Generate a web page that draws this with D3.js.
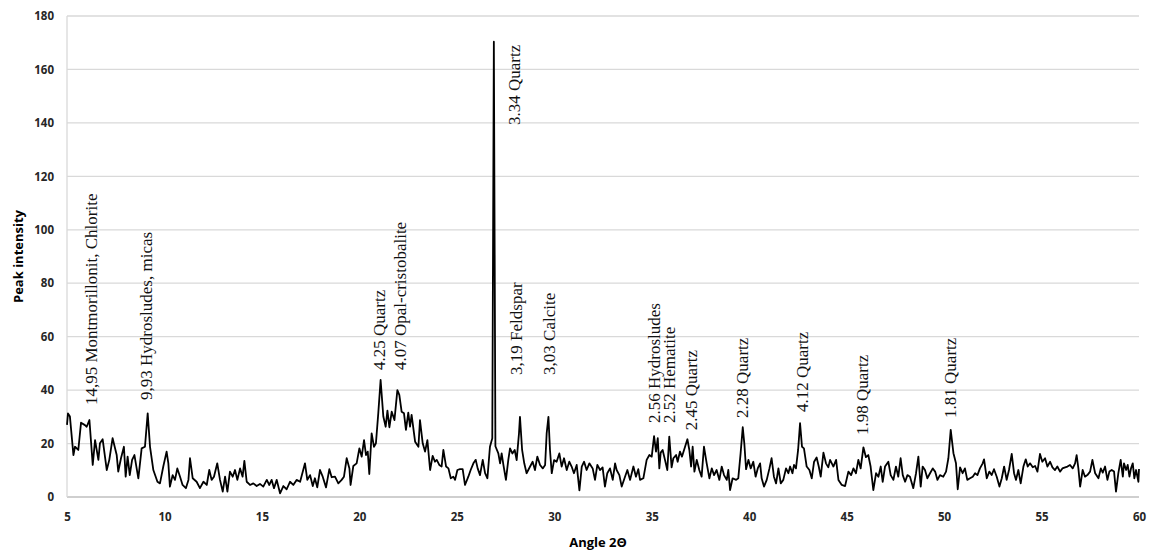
<!DOCTYPE html>
<html>
<head>
<meta charset="utf-8">
<script src="https://cdn.jsdelivr.net/npm/d3@7"></script>
<style>
  body { margin: 0; background: #fff; }
  svg { display: block; }
</style>
</head>
<body>
<div id="chart"></div>
<script>
// Diffraction scan, [angle 2θ, peak intensity]
var scanLow = [
    [5.0, 27], [5.05, 31.3], [5.15, 30.1], [5.33, 15.7], [5.41, 18.8], [5.58, 17.6], [5.72, 27.8],
    [5.92, 26.9], [6.01, 26.3], [6.15, 28.8], [6.32, 12.0], [6.44, 21.3], [6.61, 13.9], [6.69, 20.1],
    [6.83, 21.6], [7.04, 10.1], [7.17, 13.9], [7.34, 22.0], [7.55, 15.7], [7.63, 9.5], [7.77, 14.5],
    [7.92, 18.8], [8.01, 7.6], [8.11, 15.1], [8.22, 8.2], [8.34, 13.9], [8.46, 15.7], [8.66, 7.0],
    [8.83, 18.2], [9.0, 18.8], [9.14, 31.3], [9.26, 18.8], [9.43, 10.1], [9.64, 5.7], [9.77, 5.1],
    [9.94, 11.4], [10.11, 17.0], [10.2, 12.6], [10.28, 3.9], [10.42, 8.2], [10.54, 6.4], [10.66, 10.7],
    [10.8, 7.6], [10.93, 4.5], [11.1, 3.3], [11.23, 6.4], [11.31, 14.5], [11.45, 7.0], [11.65, 5.7],
    [11.82, 3.3], [12.0, 5.7], [12.17, 4.5], [12.3, 10.1], [12.42, 6.4], [12.54, 7.6], [12.71, 12.6],
    [12.85, 6.4], [12.99, 2.0], [13.11, 7.6], [13.23, 2.0], [13.36, 9.5], [13.5, 7.6], [13.62, 10.1],
    [13.74, 6.4], [13.88, 10.7], [14.01, 7.6], [14.1, 13.5], [14.22, 5.7], [14.39, 4.5], [14.56, 5.1],
    [14.73, 4.1], [14.9, 4.9], [15.07, 3.9], [15.25, 6.4], [15.38, 4.5], [15.5, 6.4], [15.62, 3.3],
    [15.76, 6.4], [15.93, 1.4], [16.1, 4.1], [16.27, 2.9], [16.44, 5.7], [16.61, 4.5], [16.78, 6.4]
];

var scanHump = [
    [16.96, 5.7], [17.21, 12.6], [17.33, 6.4], [17.47, 8.2], [17.61, 4.1], [17.72, 7.0], [17.84, 3.6],
    [17.98, 10.1], [18.12, 7.6], [18.29, 3.6], [18.46, 10.4], [18.58, 7.4], [18.75, 7.6], [18.92, 5.1],
    [19.09, 6.4], [19.21, 7.6], [19.35, 14.5], [19.49, 10.7], [19.55, 4.5], [19.69, 11.6], [19.86, 12.6],
    [20.0, 18.2], [20.12, 15.1], [20.24, 21.3], [20.34, 15.7], [20.43, 17.0], [20.51, 8.6], [20.63, 23.8],
    [20.75, 18.8], [20.85, 20.1], [20.97, 31.3], [21.09, 43.8], [21.23, 30.1], [21.35, 26.3], [21.44, 32.3],
    [21.54, 26.1], [21.66, 31.9], [21.8, 28.8], [21.95, 40.0], [22.05, 38.2], [22.17, 31.9], [22.29, 31.3],
    [22.39, 25.1], [22.51, 31.6], [22.6, 26.3], [22.68, 30.7], [22.86, 20.7], [23.03, 18.8], [23.11, 28.8],
    [23.25, 20.1], [23.37, 17.0], [23.49, 21.3], [23.63, 10.1], [23.76, 15.4], [23.88, 13.2], [23.97, 13.9],
    [24.1, 12.0], [24.22, 11.4], [24.31, 17.6], [24.45, 11.4], [24.57, 10.7], [24.69, 7.0], [24.82, 7.6],
    [24.91, 6.4], [25.03, 10.1], [25.16, 10.4], [25.3, 10.4], [25.42, 4.5], [25.59, 7.6], [25.71, 10.1],
    [25.85, 12.6], [25.97, 13.9], [26.07, 10.7], [26.19, 8.2], [26.33, 13.9], [26.45, 8.9], [26.57, 7.0],
    [26.7, 18.8]
];

var scanMain = [
    [26.82, 22.0], [26.9, 170.4], [26.98, 19.0], [27.13, 16.3], [27.22, 12.6], [27.3, 16.3], [27.39, 12.0],
    [27.52, 6.4], [27.64, 13.8], [27.73, 18.2], [27.85, 16.3], [27.97, 17.6], [28.07, 13.8], [28.19, 23.8],
    [28.24, 30.0], [28.35, 17.6], [28.46, 12.6], [28.58, 8.9], [28.76, 11.4], [28.89, 13.2], [29.01, 10.1],
    [29.13, 15.1], [29.27, 12.0], [29.41, 10.7], [29.53, 12.0], [29.61, 23.8], [29.7, 30.0], [29.78, 17.6],
    [29.87, 8.9], [29.99, 13.8], [30.12, 13.2], [30.26, 16.3], [30.38, 11.4], [30.5, 14.5], [30.64, 10.1],
    [30.77, 13.2], [30.89, 11.4], [31.01, 8.9], [31.15, 12.0], [31.29, 2.5], [31.41, 11.4], [31.53, 13.2],
    [31.66, 10.1], [31.8, 12.6]
];

var scanMid = [
    [31.97, 10.7], [32.09, 6.4], [32.21, 12.0], [32.35, 10.1], [32.48, 11.1], [32.6, 3.9], [32.72, 8.9],
    [32.86, 10.7], [33.0, 6.4], [33.12, 12.6], [33.2, 10.1], [33.34, 8.2], [33.46, 3.9], [33.63, 7.6],
    [33.75, 10.1], [33.89, 6.4], [34.06, 11.4], [34.19, 7.6], [34.31, 10.4], [34.4, 6.4], [34.57, 7.0],
    [34.74, 13.9], [34.88, 15.7], [35.0, 15.1], [35.12, 22.8], [35.22, 17.0], [35.31, 22.0], [35.39, 10.7],
    [35.46, 16.6], [35.56, 17.6], [35.68, 13.9], [35.8, 10.1], [35.9, 22.6], [36.02, 11.1], [36.11, 14.5],
    [36.25, 15.7], [36.33, 13.2], [36.45, 17.0], [36.55, 15.1], [36.71, 18.8], [36.83, 21.6], [36.93, 17.6],
    [37.02, 11.4], [37.1, 18.8], [37.19, 9.5], [37.31, 13.9], [37.44, 10.1], [37.56, 7.6], [37.68, 18.8],
    [37.82, 12.6], [37.96, 7.0], [38.08, 10.7], [38.2, 8.2], [38.33, 10.1], [38.47, 6.4], [38.59, 11.4],
    [38.71, 8.2], [38.85, 6.4], [38.93, 10.1], [39.02, 2.6], [39.15, 7.0], [39.33, 6.4], [39.44, 7.0],
    [39.56, 16.3], [39.67, 26.1], [39.75, 20.1], [39.84, 10.4], [39.96, 13.9], [40.08, 10.7], [40.21, 13.2],
    [40.33, 7.6], [40.44, 10.7], [40.56, 12.6], [40.64, 7.0], [40.76, 3.9], [40.9, 6.4], [41.04, 10.7],
    [41.15, 14.5], [41.27, 7.6], [41.38, 5.1], [41.5, 10.7], [41.62, 5.1], [41.75, 6.4], [41.89, 10.7],
    [42.01, 8.9], [42.1, 11.4], [42.22, 8.9], [42.3, 12.0], [42.4, 10.7], [42.51, 17.6], [42.61, 27.6],
    [42.71, 18.8], [42.81, 18.2], [42.95, 11.4], [43.09, 10.1], [43.21, 7.0], [43.33, 13.2], [43.46, 14.8],
    [43.57, 11.4], [43.67, 7.6], [43.81, 16.6], [43.94, 12.6], [44.06, 11.1]
];

var scanHigh = [
    [44.15, 13.9], [44.32, 11.4], [44.46, 13.9], [44.58, 6.4], [44.75, 4.5], [44.92, 4.1], [45.09, 9.5],
    [45.23, 8.2], [45.35, 10.7], [45.48, 8.9], [45.6, 13.9], [45.72, 10.7], [45.86, 18.6], [45.99, 14.9],
    [46.11, 15.7], [46.23, 11.4], [46.37, 2.6], [46.51, 8.9], [46.63, 7.6], [46.75, 11.4], [46.85, 5.7],
    [46.97, 11.4], [47.14, 13.2], [47.26, 8.2], [47.4, 6.4], [47.53, 11.4], [47.65, 7.6], [47.77, 14.5],
    [47.88, 8.2], [48.0, 5.7], [48.12, 8.2], [48.25, 7.6], [48.42, 3.3], [48.56, 8.9], [48.68, 15.1],
    [48.8, 3.9], [48.9, 11.4], [49.02, 10.1], [49.14, 7.0], [49.28, 8.9], [49.42, 10.7], [49.54, 9.5],
    [49.66, 6.4], [49.79, 8.2], [49.96, 7.6], [50.1, 9.5], [50.22, 14.5], [50.34, 25.1], [50.48, 16.4],
    [50.61, 12.6], [50.7, 2.9], [50.82, 11.1], [50.95, 8.9], [51.07, 10.7], [51.19, 6.4], [51.33, 7.0],
    [51.47, 7.6], [51.59, 8.9], [51.71, 8.2], [51.84, 10.7], [51.98, 12.6], [52.05, 14.1], [52.19, 7.0],
    [52.32, 9.5], [52.44, 8.2], [52.56, 10.4], [52.7, 7.6], [52.84, 3.9], [52.96, 7.0], [53.08, 11.4],
    [53.21, 6.4], [53.33, 10.1], [53.47, 16.1], [53.59, 8.9], [53.69, 6.4], [53.81, 10.1], [53.93, 5.1],
    [54.07, 11.4], [54.19, 14.1], [54.29, 11.4], [54.41, 12.6], [54.55, 11.1], [54.67, 11.6], [54.79, 9.5],
    [54.92, 16.1], [55.04, 13.2], [55.18, 14.5], [55.3, 11.4], [55.44, 13.2], [55.56, 11.1], [55.69, 10.1],
    [55.81, 11.4], [55.95, 9.5], [56.07, 10.7], [56.21, 11.1], [56.33, 11.4], [56.46, 12.0], [56.6, 10.7],
    [56.72, 12.6], [56.8, 15.7], [56.89, 10.7], [56.98, 3.9], [57.11, 10.1], [57.23, 7.6], [57.35, 8.2],
    [57.49, 9.5], [57.61, 13.9], [57.75, 8.9], [57.92, 7.0], [58.04, 10.7], [58.14, 9.1], [58.26, 11.4],
    [58.38, 6.4], [58.48, 9.5], [58.6, 10.1], [58.72, 9.5], [58.82, 2.0], [58.94, 8.9], [59.06, 13.9],
    [59.17, 7.6], [59.23, 12.6], [59.34, 10.1], [59.42, 12.0], [59.51, 7.6], [59.59, 10.7], [59.68, 12.6],
    [59.76, 7.0], [59.85, 10.1], [59.97, 5.7], [60.0, 10.5]
];

var xTicks = [5, 10, 15, 20, 25, 30, 35, 40, 45, 50, 55, 60];
var yTicks = [0, 20, 40, 60, 80, 100, 120, 140, 160, 180];

// Peak annotations: text, angle of the text baseline, intensity where the text starts
var peakNames = [
    '14,95 Montmorillonit, Chlorite', '9,93 Hydrosludes, micas', '4.25 Quartz', '4.07 Opal-cristobalite',
    '3.34 Quartz', '3,19 Feldspar', '3,03 Calcite', '2.56 Hydrosludes', '2.52 Hematite', '2.45 Quartz',
    '2.28 Quartz', '4.12 Quartz', '1.98 Quartz', '1.81 Quartz'
];
var peakAngles = [6.54, 9.36, 21.3, 22.4, 28.24, 28.35, 30.04, 35.43, 36.2, 37.32, 39.94, 43.02, 46.1, 50.61];
var peakStarts = [34.4, 36.3, 47.5, 47.5, 139.2, 45.7, 45.7, 27.7, 27.7, 25.0, 29.6, 31.8, 23.2, 29.6];

var scan = scanLow.concat(scanHump, scanMain, scanMid, scanHigh);

var width = 1153;
var height = 555;

var svg = d3.select('#chart')
    .append('svg')
    .attr('width', width)
    .attr('height', height);

var x = d3.scaleLinear().domain([5, 60]).range([67, 1139]);
var y = d3.scaleLinear().domain([0, 180]).range([497, 16]);

// gridlines
svg.append('g')
    .selectAll('line')
    .data(yTicks)
    .join('line')
    .attr('x1', x(5))
    .attr('x2', x(60))
    .attr('y1', d => y(d))
    .attr('y2', d => y(d))
    .attr('stroke', d => d === 0 ? '#bfbfbf' : '#d9d9d9')
    .attr('stroke-width', 1.3);

svg.append('line')
    .attr('x1', x(5)).attr('x2', x(5))
    .attr('y1', y(180)).attr('y2', y(0))
    .attr('stroke', '#d9d9d9')
    .attr('stroke-width', 1.3);

var xAxis = svg.append('g')
    .attr('transform', `translate(0, ${y(0)})`)
    .call(d3.axisBottom(x).tickValues(xTicks).tickSize(0).tickPadding(16));

var yAxis = svg.append('g')
    .attr('transform', `translate(${x(5)}, 0)`)
    .call(d3.axisLeft(y).tickValues(yTicks).tickSize(0).tickPadding(13));

[xAxis, yAxis].forEach(g => {
    g.select('.domain').remove();
    g.selectAll('text')
        .attr('font-family', '"Open Sans", sans-serif')
        .attr('font-weight', 700)
        .attr('font-size', '11.5px')
        .attr('fill', '#262626');
});

// the scan line
var line = d3.line()
    .x(d => x(d[0]))
    .y(d => y(d[1]));

svg.append('path')
    .datum(scan)
    .attr('d', line)
    .attr('fill', 'none')
    .attr('stroke', '#000')
    .attr('stroke-width', 1.8)
    .attr('stroke-linejoin', 'round');

// peak labels
svg.append('g')
    .selectAll('text')
    .data(peakNames)
    .join('text')
    .attr('transform', (d, i) => `translate(${x(peakAngles[i])}, ${y(peakStarts[i])}) rotate(-90)`)
    .attr('font-family', '"Liberation Serif", "Times New Roman", serif')
    .attr('font-size', '17px')
    .attr('fill', '#111')
    .text(d => d);

// axis titles
svg.append('text')
    .attr('transform', `translate(23, ${(y(0) + y(180)) / 2}) rotate(-90)`)
    .attr('text-anchor', 'middle')
    .attr('font-family', '"Open Sans", sans-serif')
    .attr('font-weight', 700)
    .attr('font-size', '13px')
    .attr('fill', '#000')
    .text('Peak intensity');

svg.append('text')
    .attr('x', 598)
    .attr('y', 547)
    .attr('text-anchor', 'middle')
    .attr('font-family', '"Open Sans", sans-serif')
    .attr('font-weight', 700)
    .attr('font-size', '13px')
    .attr('fill', '#000')
    .text('Angle 2Θ');
</script>
</body>
</html>
